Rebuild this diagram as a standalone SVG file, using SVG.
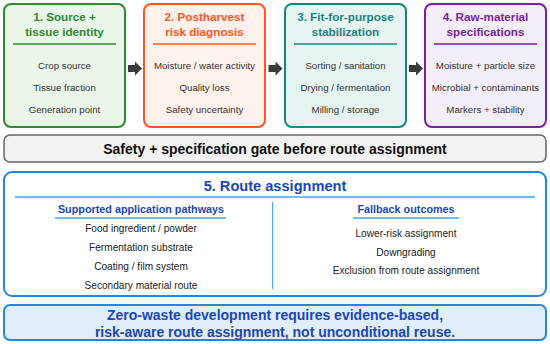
<svg xmlns="http://www.w3.org/2000/svg" width="550" height="344" viewBox="0 0 550 344">
<style>
text{font-family:"Liberation Sans",Arial,sans-serif;text-anchor:middle}
.t{font-size:11.7px;font-weight:bold}
.b{font-size:9.7px;fill:#333}
.c{font-size:10.1px;fill:#222}
.h{font-size:10.8px;font-weight:bold;fill:#1a47b8}
.box{stroke-width:2}
.arr{fill:#3a3a3a}
</style>
<rect width="550" height="344" fill="#fff"/>
<g id="node1">
<rect class="box" x="4" y="4" width="121" height="123" rx="7" fill="#eaf6ea" stroke="#2e8b2e"/>
<text class="t" x="64.5" y="20.5" fill="#2e8b2e">1. Source +</text>
<text class="t" x="64.5" y="35.5" fill="#2e8b2e">tissue identity</text>
<line x1="13" y1="44" x2="116" y2="44" stroke="#2e8b2e" stroke-width="1.5"/>
<text class="b" x="64.5" y="68.5">Crop source</text>
<text class="b" x="64.5" y="90.5">Tissue fraction</text>
<text class="b" x="64.5" y="112.5">Generation point</text>
</g>
<g id="node2">
<rect class="box" x="144" y="4" width="121" height="123" rx="7" fill="#fff1ec" stroke="#ff5722"/>
<text class="t" x="204.5" y="20.5" fill="#ff5722">2. Postharvest</text>
<text class="t" x="204.5" y="35.5" fill="#ff5722">risk diagnosis</text>
<line x1="153" y1="44" x2="256" y2="44" stroke="#ff5722" stroke-width="1.5"/>
<text class="b" x="204.5" y="68.5">Moisture / water activity</text>
<text class="b" x="204.5" y="90.5">Quality loss</text>
<text class="b" x="204.5" y="112.5">Safety uncertainty</text>
</g>
<g id="node3">
<rect class="box" x="285" y="4" width="121" height="123" rx="7" fill="#e6f4f2" stroke="#16877d"/>
<text class="t" x="345.5" y="20.5" fill="#16877d">3. Fit-for-purpose</text>
<text class="t" x="345.5" y="35.5" fill="#16877d">stabilization</text>
<line x1="294" y1="44" x2="397" y2="44" stroke="#16877d" stroke-width="1.5"/>
<text class="b" x="345.5" y="68.5">Sorting / sanitation</text>
<text class="b" x="345.5" y="90.5">Drying / fermentation</text>
<text class="b" x="345.5" y="112.5">Milling / storage</text>
</g>
<g id="node4">
<rect class="box" x="425" y="4" width="121" height="123" rx="7" fill="#f3eef8" stroke="#7b1fa2"/>
<text class="t" x="485.5" y="20.5" fill="#7b1fa2">4. Raw-material</text>
<text class="t" x="485.5" y="35.5" fill="#7b1fa2">specifications</text>
<line x1="434" y1="44" x2="537" y2="44" stroke="#7b1fa2" stroke-width="1.5"/>
<text class="b" x="485.5" y="68.5">Moisture + particle size</text>
<text class="b" x="485.5" y="90.5">Microbial + contaminants</text>
<text class="b" x="485.5" y="112.5">Markers + stability</text>
</g>
<g id="connectors">
<polygon class="arr" points="128,65 135,65 135,61.5 142,68.5 135,75.5 135,72 128,72"/>
<polygon class="arr" points="268.5,65 275.5,65 275.5,61.5 282.5,68.5 275.5,75.5 275.5,72 268.5,72"/>
<polygon class="arr" points="409,65 416,65 416,61.5 423,68.5 416,75.5 416,72 409,72"/>
</g>
<g id="gate">
<rect x="4" y="135" width="542" height="27" rx="6" fill="#f2f2f2" stroke="#666" stroke-width="1.5"/>
<text x="275" y="154" font-size="14" font-weight="bold" fill="#111">Safety + specification gate before route assignment</text>
</g>
<g id="node5">
<rect class="box" x="4" y="172" width="542" height="124" rx="8" fill="#fff" stroke="#1e88e5"/>
<text x="275" y="190.5" font-size="14.6" font-weight="bold" fill="#1a47b8">5. Route assignment</text>
<line x1="15" y1="197" x2="535" y2="197" stroke="#42a5f5" stroke-width="1.5"/>
<line x1="272.5" y1="202" x2="272.5" y2="289" stroke="#42a5f5" stroke-width="1"/>
<text class="h" x="141" y="213">Supported application pathways</text>
<line x1="55" y1="218" x2="226" y2="218" stroke="#42a5f5" stroke-width="1.5"/>
<text class="c" x="141" y="231.5">Food ingredient / powder</text>
<text class="c" x="141" y="250.5" font-size="10.7">Fermentation substrate</text>
<text class="c" x="141" y="270" font-size="10.7">Coating / film system</text>
<text class="c" x="141" y="289">Secondary material route</text>
<text class="h" x="406" y="213">Fallback outcomes</text>
<line x1="353" y1="218" x2="459" y2="218" stroke="#42a5f5" stroke-width="1.5"/>
<text class="c" x="406" y="236.5">Lower-risk assignment</text>
<text class="c" x="406" y="255.5">Downgrading</text>
<text class="c" x="406" y="274">Exclusion from route assignment</text>
</g>
<g id="summary">
<rect x="4" y="305" width="542" height="35" rx="6" fill="#e1eefa" stroke="#1e88e5" stroke-width="2"/>
<text x="275" y="320" font-size="14" font-weight="bold" fill="#1a47b8">Zero-waste development requires evidence-based,</text>
<text x="275" y="337" font-size="14" font-weight="bold" fill="#1a47b8">risk-aware route assignment, not unconditional reuse.</text>
</g>
</svg>
